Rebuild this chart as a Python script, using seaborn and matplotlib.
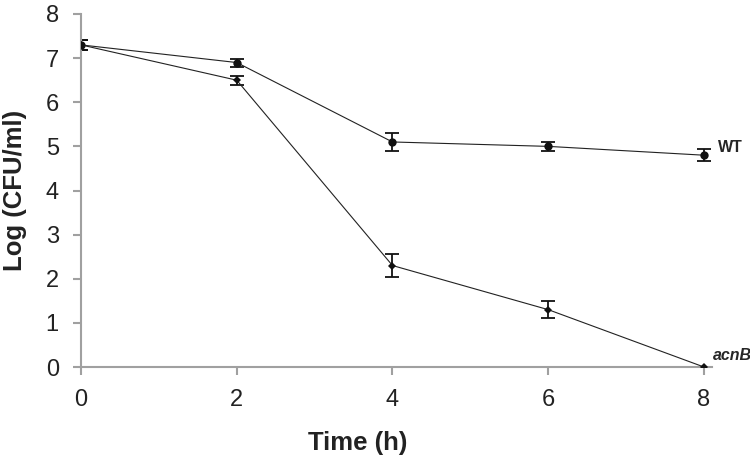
import matplotlib
matplotlib.use("Agg")
import matplotlib.pyplot as plt
import seaborn as sns
import pandas as pd

# survival data
time_h = [0, 2, 4, 6, 8]
wt_log = [7.3, 6.9, 5.1, 5.0, 4.8]
wt_err = [0.12, 0.09, 0.2, 0.1, 0.13]
acnb_log = [7.3, 6.5, 2.3, 1.3, 0.0]
acnb_err = [0.12, 0.1, 0.25, 0.2, 0.0]

sns.set_style("white")
plt.rcParams['font.family'] = ['Liberation Sans', 'DejaVu Sans']

df = pd.DataFrame({
    "Time (h)": time_h * 2,
    "Log (CFU/ml)": wt_log + acnb_log,
    "strain": ["WT"] * 5 + ["acnB"] * 5,
})

fig = plt.figure(figsize=(7.5, 4.59), dpi=100)
ax = fig.add_axes([0.108, 0.2004, 0.841, 0.7691])

sns.lineplot(data=df, x="Time (h)", y="Log (CFU/ml)", hue="strain", style="strain",
             markers={"WT": "o", "acnB": "D"}, dashes=False,
             palette={"WT": "#222222", "acnB": "#222222"},
             linewidth=0.8, markeredgewidth=0, legend=False, ax=ax, zorder=3)
for line, ms in zip(ax.lines, [6, 4]):
    line.set_markersize(ms)
    line.set_markerfacecolor("#111111")

ax.errorbar(time_h, wt_log, yerr=wt_err, fmt="none", ecolor="#111111",
            elinewidth=1.3, capsize=5, capthick=1.3, zorder=2)
ax.errorbar(time_h[:4], acnb_log[:4], yerr=acnb_err[:4], fmt="none", ecolor="#111111",
            elinewidth=1.3, capsize=5, capthick=1.3, zorder=2)

ax.text(8.18, 4.98, "WT", fontsize=11.5, fontweight="bold", va="center", ha="left")
ax.text(8.11, 0.27, "acnB", fontsize=11.5, fontweight="bold", fontstyle="italic",
        va="center", ha="left")

ax.set_xlim(0, 8.1)
ax.set_ylim(0, 8)
ax.set_xticks(time_h)
ax.set_yticks(range(0, 9))
sns.despine(ax=ax)
for s in ["left", "bottom"]:
    ax.spines[s].set_color("#a0a0a0")
    ax.spines[s].set_linewidth(1.5)
ax.tick_params(direction="out", length=6, width=1.5, color="#a0a0a0",
               labelsize=17, labelcolor="#222222", left=True, bottom=True)
ax.tick_params(axis="x", pad=10)
ax.tick_params(axis="y", pad=10)

ax.set_xlabel("Time (h)", fontsize=18.5, fontweight="bold", color="#222222")
ax.set_ylabel("Log (CFU/ml)", fontsize=18.5, fontweight="bold", color="#222222")
ax.xaxis.set_label_coords(0.438, -0.18)
ax.yaxis.set_label_coords(-0.086, 0.5)

fig.savefig("out.png", dpi=100)
